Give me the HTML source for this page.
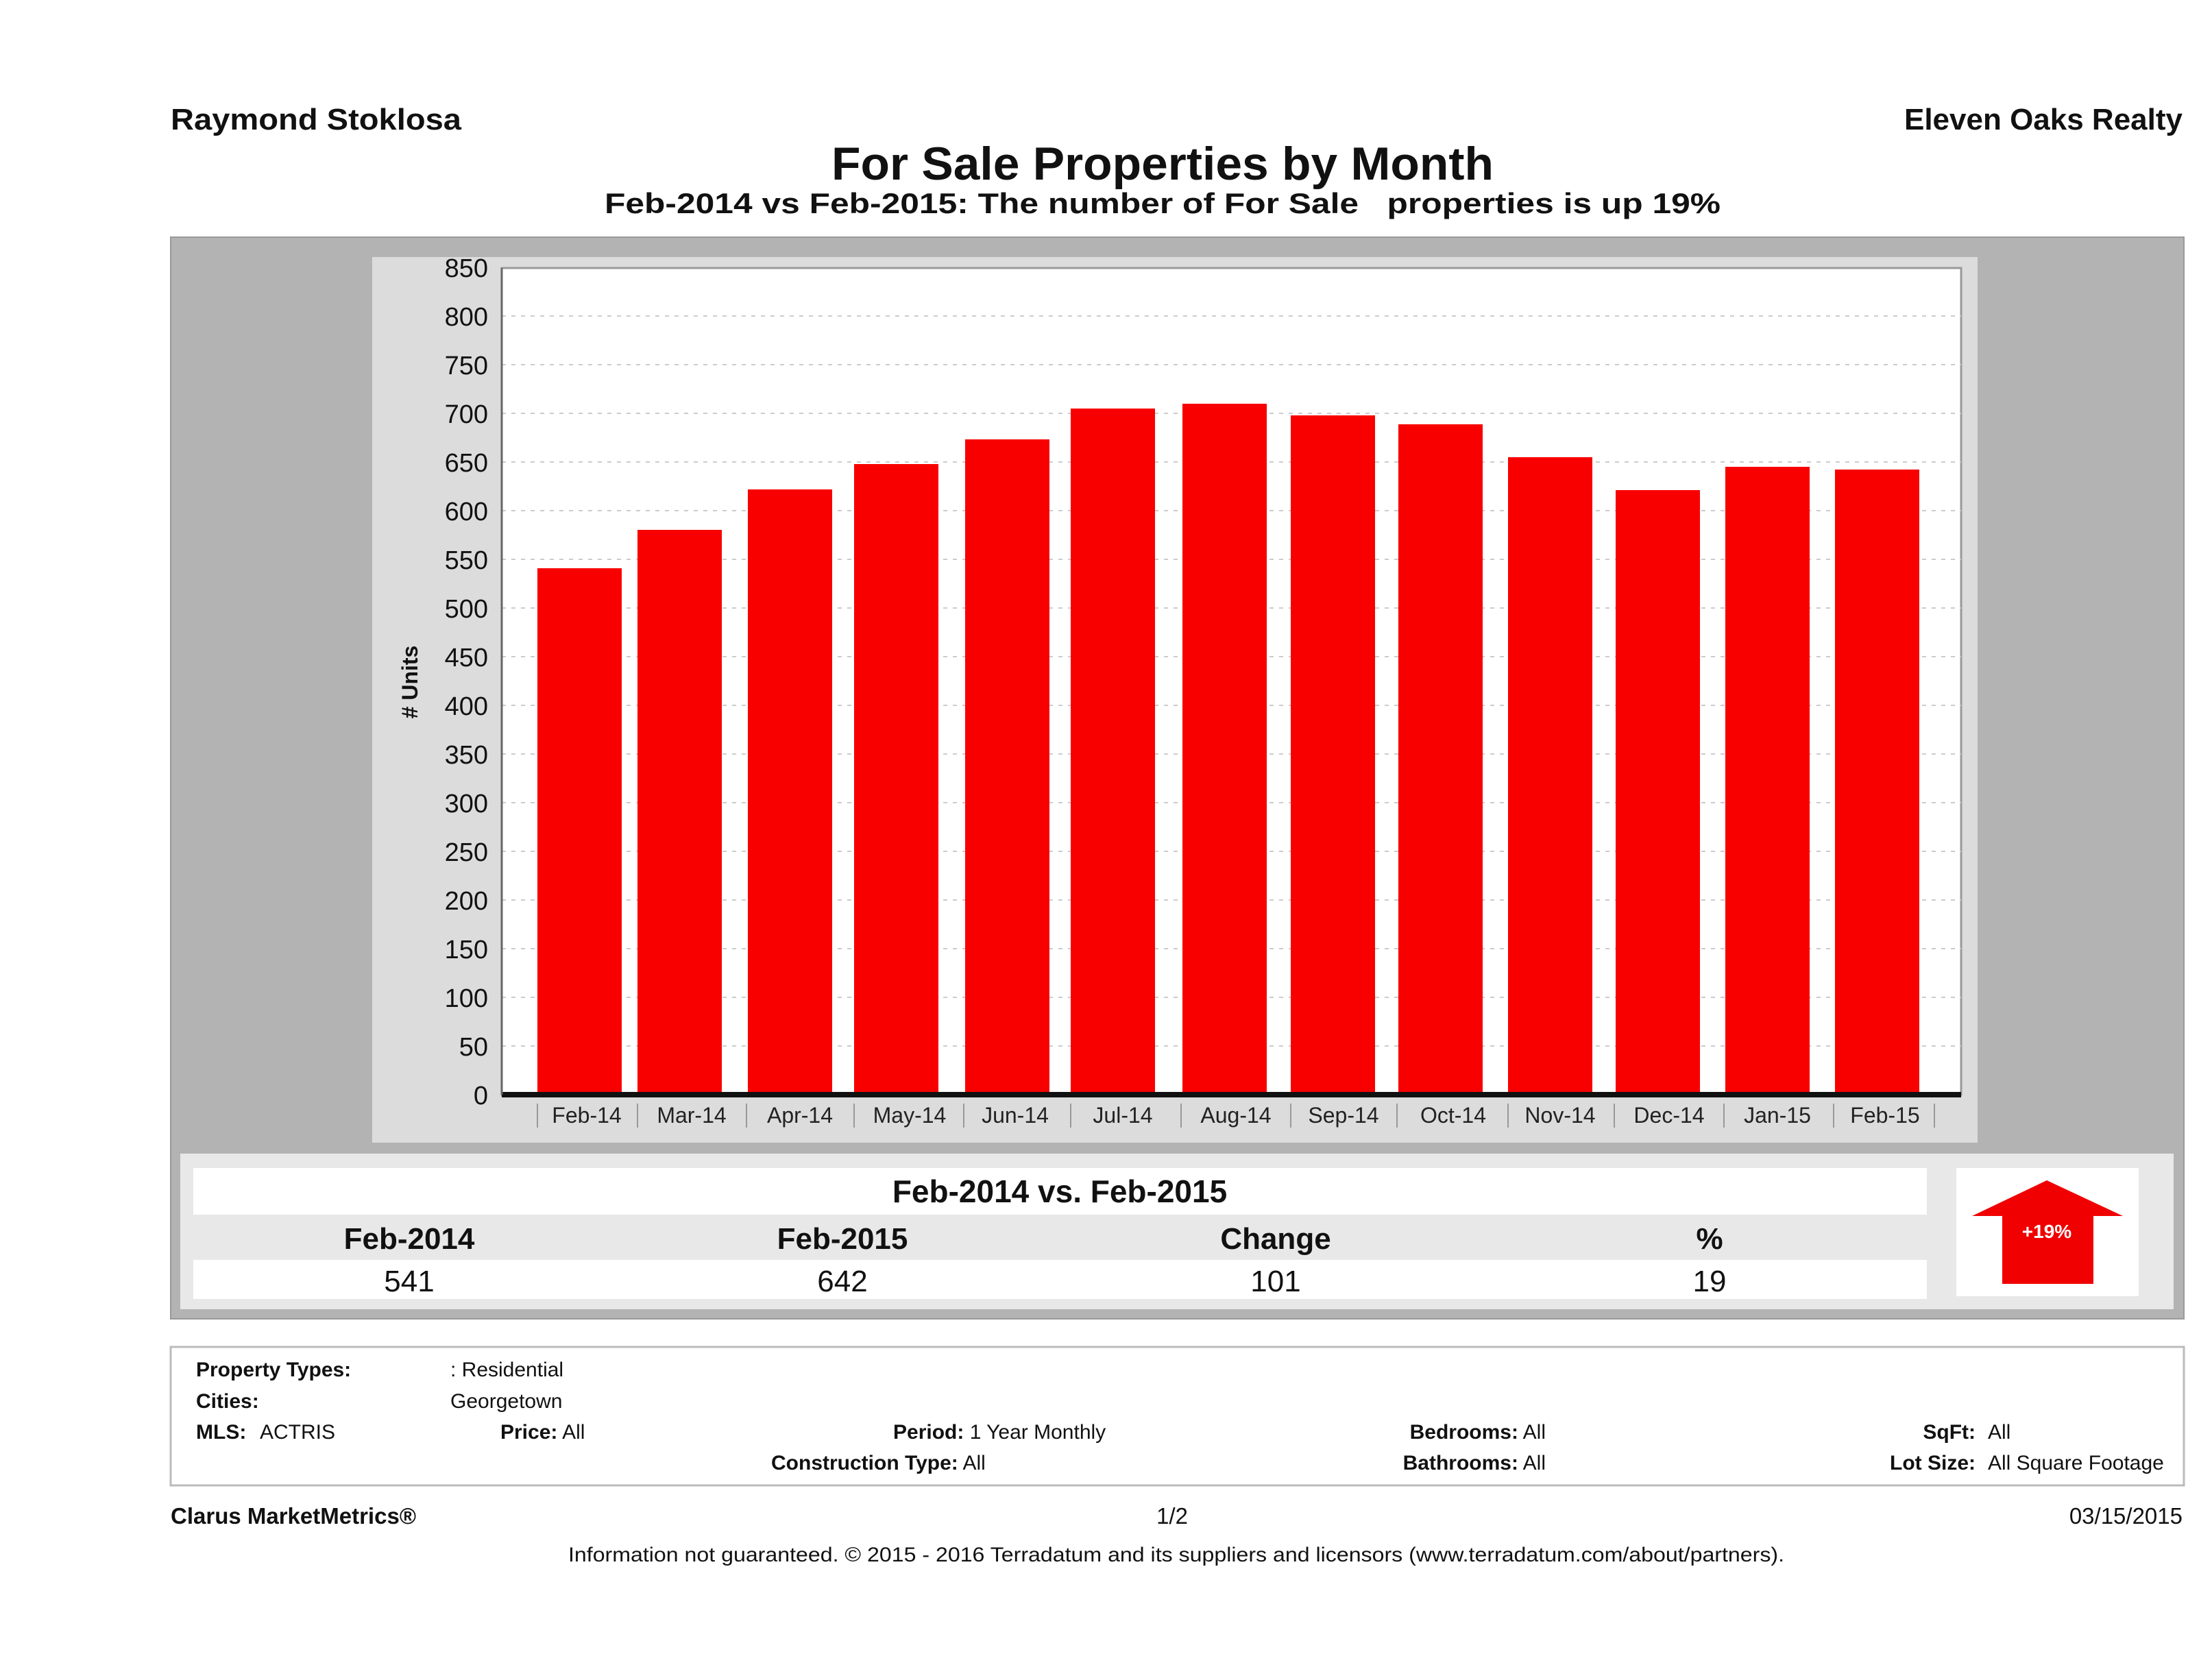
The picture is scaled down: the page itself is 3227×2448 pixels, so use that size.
<!DOCTYPE html>
<html><head><meta charset="utf-8"><style>
html,body{margin:0;padding:0;background:#fff;}
svg{display:block;font-family:"Liberation Sans",sans-serif;}
</style></head><body>
<svg width="3227" height="2448" viewBox="0 0 3227 2448" xmlns="http://www.w3.org/2000/svg">
<rect width="3227" height="2448" fill="#fff"/>
<text x="249" y="189" font-size="44" font-weight="bold" fill="#111" textLength="424" lengthAdjust="spacingAndGlyphs">Raymond Stoklosa</text>
<text x="3184" y="189" font-size="44" font-weight="bold" fill="#111" text-anchor="end">Eleven Oaks Realty</text>
<text x="1696" y="262" font-size="68" font-weight="bold" fill="#111" text-anchor="middle" textLength="966" lengthAdjust="spacingAndGlyphs">For Sale Properties by Month</text>
<text x="1696" y="311" font-size="42" font-weight="bold" fill="#111" text-anchor="middle" style="white-space:pre" textLength="1628" lengthAdjust="spacingAndGlyphs">Feb-2014 vs Feb-2015: The number of For Sale   properties is up 19%</text>

<rect x="249" y="346" width="2937" height="1578" fill="#b3b3b3" stroke="#999" stroke-width="2"/>
<rect x="543" y="375" width="2342" height="1292" fill="#dcdcdc"/>
<rect x="732" y="391" width="2129" height="1206" fill="#fff" stroke="#999" stroke-width="3"/>
<g stroke="#ccc" stroke-width="2" stroke-dasharray="6,8">
<line x1="732" y1="461" x2="2861" y2="461"/><line x1="732" y1="532" x2="2861" y2="532"/>
<line x1="732" y1="603" x2="2861" y2="603"/><line x1="732" y1="674" x2="2861" y2="674"/>
<line x1="732" y1="745" x2="2861" y2="745"/><line x1="732" y1="816" x2="2861" y2="816"/>
<line x1="732" y1="887" x2="2861" y2="887"/><line x1="732" y1="958" x2="2861" y2="958"/>
<line x1="732" y1="1029" x2="2861" y2="1029"/><line x1="732" y1="1100" x2="2861" y2="1100"/>
<line x1="732" y1="1171" x2="2861" y2="1171"/><line x1="732" y1="1242" x2="2861" y2="1242"/>
<line x1="732" y1="1313" x2="2861" y2="1313"/><line x1="732" y1="1384" x2="2861" y2="1384"/>
<line x1="732" y1="1455" x2="2861" y2="1455"/><line x1="732" y1="1526" x2="2861" y2="1526"/>
</g>
<g fill="#f80000">
<rect x="784" y="829" width="123" height="768"/>
<rect x="930" y="773" width="123" height="824"/>
<rect x="1091" y="714" width="123" height="883"/>
<rect x="1246" y="677" width="123" height="920"/>
<rect x="1408" y="641" width="123" height="956"/>
<rect x="1562" y="596" width="123" height="1001"/>
<rect x="1725" y="589" width="123" height="1008"/>
<rect x="1883" y="606" width="123" height="991"/>
<rect x="2040" y="619" width="123" height="978"/>
<rect x="2200" y="667" width="123" height="930"/>
<rect x="2357" y="715" width="123" height="882"/>
<rect x="2517" y="681" width="123" height="916"/>
<rect x="2677" y="685" width="123" height="912"/>
</g>
<line x1="732" y1="1597" x2="2861" y2="1597" stroke="#111" stroke-width="8"/>
<line x1="732" y1="391" x2="732" y2="1597" stroke="#666" stroke-width="3"/>
<g font-size="38" fill="#111" text-anchor="end">
<text x="712" y="404">850</text><text x="712" y="475">800</text><text x="712" y="546">750</text>
<text x="712" y="617">700</text><text x="712" y="688">650</text><text x="712" y="759">600</text>
<text x="712" y="830">550</text><text x="712" y="901">500</text><text x="712" y="972">450</text>
<text x="712" y="1043">400</text><text x="712" y="1114">350</text><text x="712" y="1185">300</text>
<text x="712" y="1256">250</text><text x="712" y="1327">200</text><text x="712" y="1398">150</text>
<text x="712" y="1469">100</text><text x="712" y="1540">50</text><text x="712" y="1611">0</text>
</g>
<text transform="translate(609,995) rotate(-90)" font-size="32" font-weight="bold" fill="#111" text-anchor="middle"># Units</text>
<g font-size="32" fill="#222" text-anchor="middle">
<text x="856" y="1638">Feb-14</text><text x="1009" y="1638">Mar-14</text><text x="1167" y="1638">Apr-14</text>
<text x="1327" y="1638">May-14</text><text x="1481" y="1638">Jun-14</text><text x="1638" y="1638">Jul-14</text>
<text x="1803" y="1638">Aug-14</text><text x="1960" y="1638">Sep-14</text><text x="2120" y="1638">Oct-14</text>
<text x="2276" y="1638">Nov-14</text><text x="2435" y="1638">Dec-14</text><text x="2593" y="1638">Jan-15</text>
<text x="2750" y="1638">Feb-15</text>
</g>
<g stroke="#999" stroke-width="2">
<line x1="784" y1="1610" x2="784" y2="1645"/><line x1="930" y1="1610" x2="930" y2="1645"/>
<line x1="1089" y1="1610" x2="1089" y2="1645"/><line x1="1246" y1="1610" x2="1246" y2="1645"/>
<line x1="1406" y1="1610" x2="1406" y2="1645"/><line x1="1562" y1="1610" x2="1562" y2="1645"/>
<line x1="1723" y1="1610" x2="1723" y2="1645"/><line x1="1883" y1="1610" x2="1883" y2="1645"/>
<line x1="2038" y1="1610" x2="2038" y2="1645"/><line x1="2200" y1="1610" x2="2200" y2="1645"/>
<line x1="2355" y1="1610" x2="2355" y2="1645"/><line x1="2515" y1="1610" x2="2515" y2="1645"/>
<line x1="2675" y1="1610" x2="2675" y2="1645"/><line x1="2822" y1="1610" x2="2822" y2="1645"/>
</g>

<rect x="263" y="1683" width="2908" height="227" fill="#e8e8e8"/>
<rect x="282" y="1704" width="2529" height="68" fill="#fff"/>
<rect x="282" y="1838" width="2529" height="57" fill="#fff"/>
<rect x="2854" y="1704" width="266" height="187" fill="#fff"/>
<text x="1546" y="1754" font-size="46" font-weight="bold" fill="#111" text-anchor="middle">Feb-2014 vs. Feb-2015</text>
<g font-size="44" font-weight="bold" fill="#111" text-anchor="middle">
<text x="597" y="1822">Feb-2014</text><text x="1229" y="1822">Feb-2015</text>
<text x="1861" y="1822">Change</text><text x="2494" y="1822">%</text>
</g>
<g font-size="44" fill="#111" text-anchor="middle">
<text x="597" y="1884">541</text><text x="1229" y="1884">642</text>
<text x="1861" y="1884">101</text><text x="2494" y="1884">19</text>
</g>
<polygon points="2986,1722 3097,1774 3054,1774 3054,1873 2921,1873 2921,1774 2877,1774" fill="#f00000"/>
<text x="2986" y="1806" font-size="28" font-weight="bold" fill="#fff" text-anchor="middle">+19%</text>

<rect x="249" y="1965" width="2937" height="202" fill="#fff" stroke="#bbb" stroke-width="3"/>
<g font-size="30" fill="#111">
<text x="286" y="2008" font-weight="bold">Property Types:</text><text x="657" y="2008">: Residential</text>
<text x="286" y="2054" font-weight="bold">Cities:</text><text x="657" y="2054">Georgetown</text>
<text x="286" y="2099" font-weight="bold">MLS:</text><text x="379" y="2099">ACTRIS</text>
<text x="730" y="2099"><tspan font-weight="bold">Price:</tspan> All</text>
<text x="1303" y="2099"><tspan font-weight="bold">Period:</tspan> 1 Year Monthly</text>
<text x="1125" y="2144"><tspan font-weight="bold">Construction Type:</tspan> All</text>
<text x="2255" y="2099" text-anchor="end"><tspan font-weight="bold">Bedrooms:</tspan> All</text>
<text x="2255" y="2144" text-anchor="end"><tspan font-weight="bold">Bathrooms:</tspan> All</text>
<text x="2882" y="2099" text-anchor="end" font-weight="bold">SqFt:</text><text x="2900" y="2099">All</text>
<text x="2882" y="2144" text-anchor="end" font-weight="bold">Lot Size:</text><text x="2900" y="2144">All Square Footage</text>
</g>
<text x="249" y="2223" font-size="33" font-weight="bold" fill="#111">Clarus MarketMetrics®</text>
<text x="1710" y="2223" font-size="33" fill="#111" text-anchor="middle">1/2</text>
<text x="3184" y="2223" font-size="33" fill="#111" text-anchor="end">03/15/2015</text>
<text x="1716" y="2278" font-size="30" fill="#111" text-anchor="middle" textLength="1774" lengthAdjust="spacingAndGlyphs">Information not guaranteed. © 2015 - 2016 Terradatum and its suppliers and licensors (www.terradatum.com/about/partners).</text>
</svg>
</body></html>
